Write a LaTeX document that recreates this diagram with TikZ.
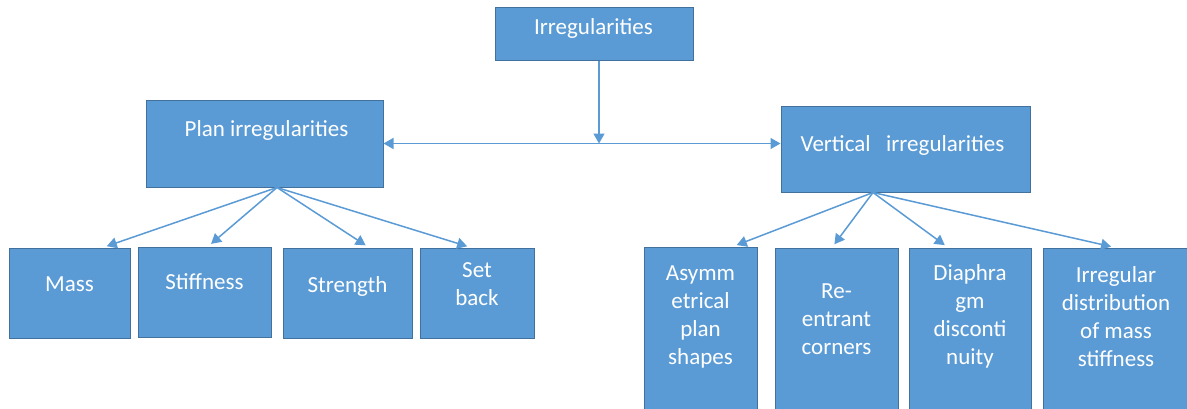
\documentclass[tikz,border=0pt]{standalone}
\usepackage{fontspec}
\setmainfont{Carlito}
\usetikzlibrary{arrows.meta}
\definecolor{boxblue}{HTML}{5B9BD5}
\definecolor{boxline}{HTML}{41719C}

\begin{document}
\begin{tikzpicture}[x=1pt,y=-1pt,
  >={Triangle[length=10pt,width=11pt]},
  box/.style={draw=boxline,fill=boxblue,line width=1pt,inner sep=0pt},
  txt/.style={text=white,align=center,inner sep=0pt,font=\fontsize{23}{28}\selectfont},
  link/.style={draw=boxblue,line width=1.5pt}]
  \useasboundingbox[fill=white] (0,0) rectangle (1187,408);

  \node[box,minimum width=198pt,minimum height=53pt] (top) at (594,33.5) {};
  \node[box,minimum width=237pt,minimum height=87pt] (plan) at (264.5,143.5) {};
  \node[box,minimum width=249pt,minimum height=86pt] (vert) at (905.5,149) {};

  \node[box,minimum width=121pt,minimum height=90pt] (mass) at (69.5,293) {};
  \node[box,minimum width=133pt,minimum height=90pt] (stiff) at (204.5,292) {};
  \node[box,minimum width=129pt,minimum height=90pt] (strength) at (347.5,293) {};
  \node[box,minimum width=114pt,minimum height=90pt] (setback) at (477,293) {};

  \node[box,minimum width=113pt,minimum height=166pt] (asymm) at (700.5,330) {};
  \node[box,minimum width=123pt,minimum height=165pt] (reent) at (836.5,330.5) {};
  \node[box,minimum width=122pt,minimum height=165pt] (diaph) at (970,330.5) {};
  \node[box,minimum width=150pt,minimum height=165pt] (irreg) at (1118,330.5) {};

  \node[txt] (topT) at (593.5,28) {Irregularities};
  \node[txt] (planT) at (266.5,130) {Plan irregularities};
  \node[txt] (vertT) at (902.5,145) {Vertical~~~irregularities};
  \node[txt] (massT) at (69.5,284) {Mass};
  \node[txt] (stiffT) at (204.5,282) {Stiffness};
  \node[txt] (strengthT) at (347.5,286) {Strength};
  \node[txt] (setbackT) at (477,284) {Set\\back};
  \node[txt] (asymmT) at (700.5,316.5) {Asymm\\etrical\\plan\\shapes};
  \node[txt] (reentT) at (836.5,319.5) {Re-\\entrant\\corners};
  \node[txt] (diaphT) at (970,316.5) {Diaphra\\gm\\disconti\\nuity};
  \node[txt] (irregT) at (1116,316.5) {Irregular\\distribution\\of mass\\stiffness};

  \coordinate (hub) at (599,143.5);
  \coordinate (pfoot) at ([xshift=12.5pt]plan.south);
  \coordinate (vfoot) at ([xshift=-32.5pt]vert.south);

  \draw[link,->] ([xshift=5pt]top.south) -- (hub);
  \draw[link,<->] (plan.east) -- (vert.west |- plan.east);

  \foreach \b/\s in {mass/33.5,stiff/3.5,strength/21.5,setback/-6}
    \draw[link,->,shorten >=4pt] (pfoot) -- ([xshift=\s pt]\b.north);
  \foreach \b/\s in {asymm/32.5,reent/-4.5,diaph/-22,irreg/-3}
    \draw[link,->,shorten >=4pt] (vfoot) -- ([xshift=\s pt]\b.north);
\end{tikzpicture}
\end{document}
